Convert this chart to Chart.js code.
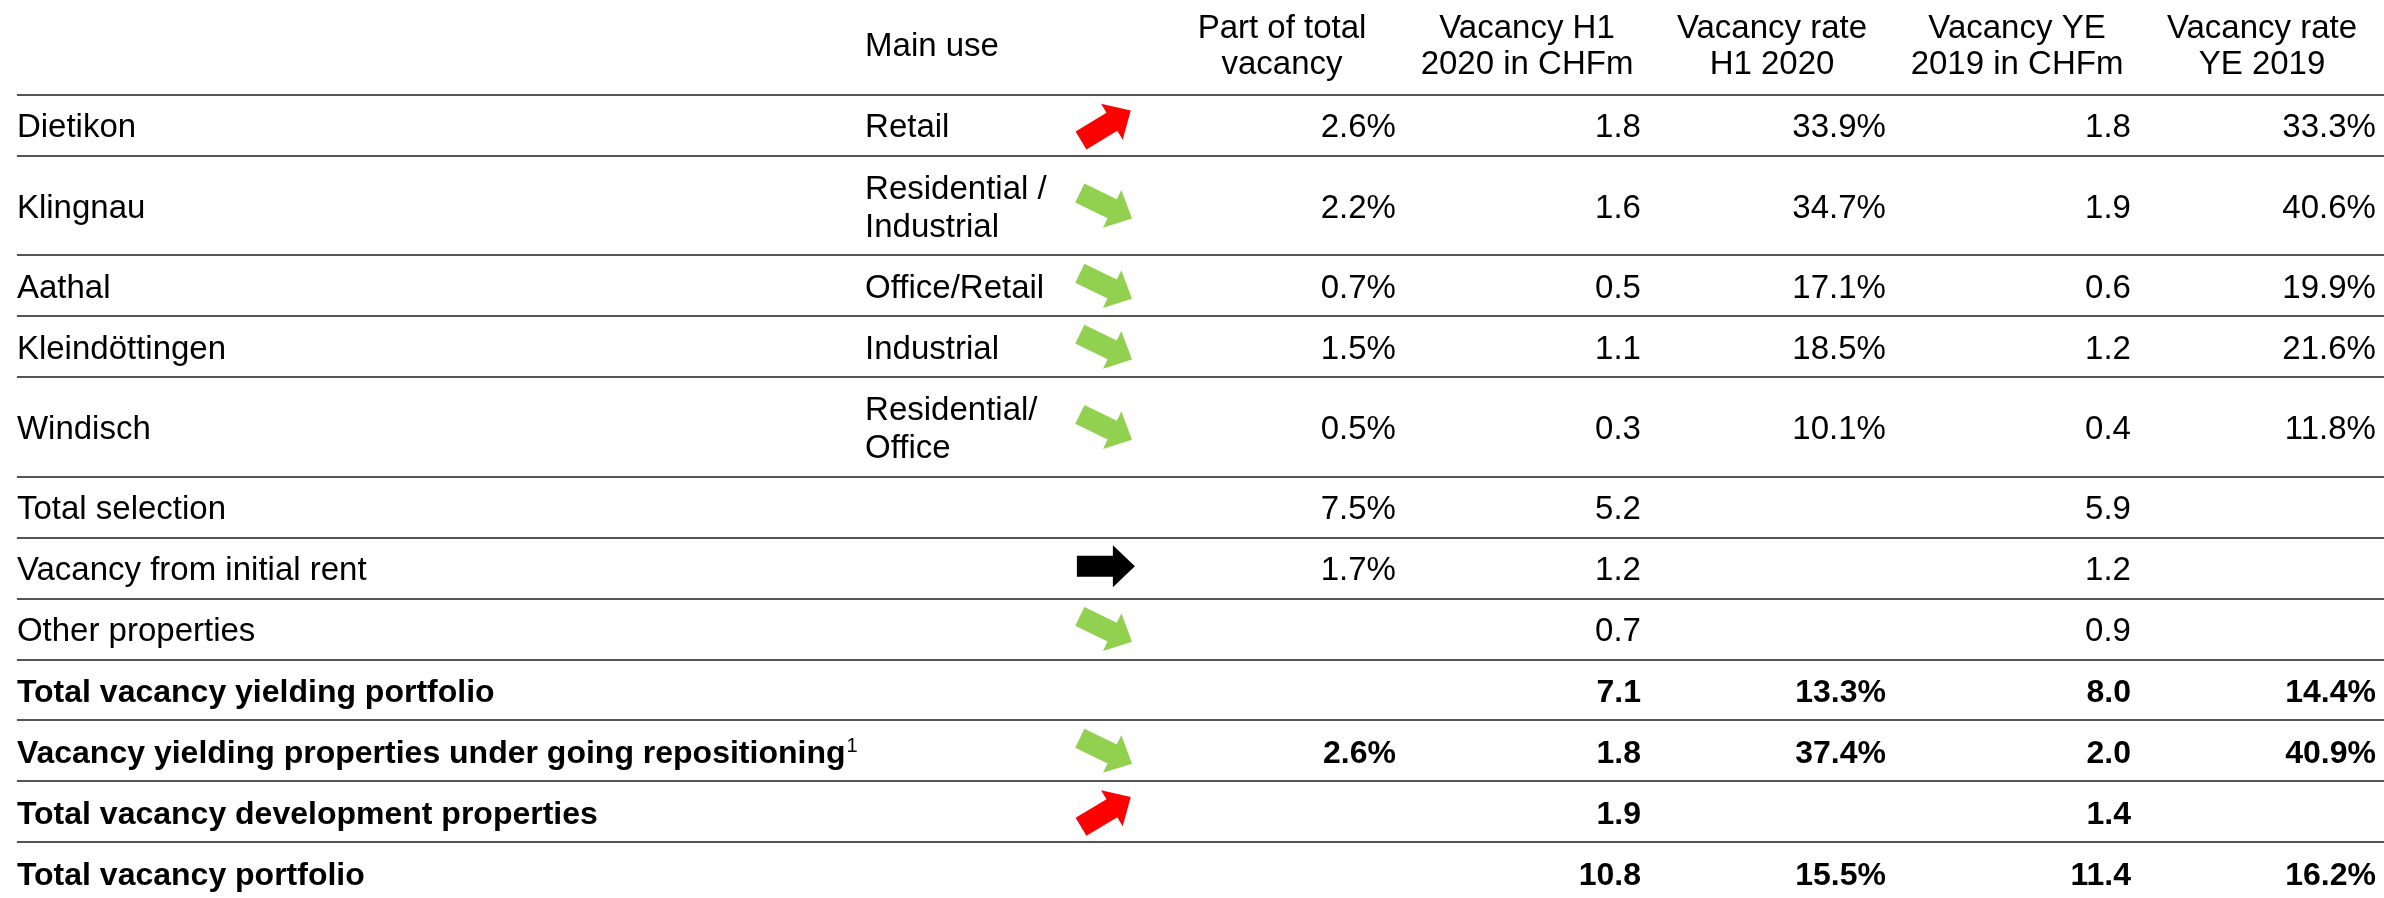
<!DOCTYPE html>
<html>
<head>
<meta charset="utf-8">
<script src="https://cdn.jsdelivr.net/npm/chart.js@4.4.1/dist/chart.umd.min.js"></script>
<style>
  html, body { margin: 0; padding: 0; background: #fff; }
</style>
</head>
<body>
<canvas id="vacancy-table" width="2384" height="898"></canvas>
<script>
// table content
const rowLabels = ['Dietikon', 'Klingnau', 'Aathal', 'Kleindöttingen', 'Windisch', 'Total selection',
  'Vacancy from initial rent', 'Other properties', 'Total vacancy yielding portfolio',
  'Vacancy yielding properties under going repositioning', 'Total vacancy development properties',
  'Total vacancy portfolio'];
const mainUse = ['Retail', 'Residential /\nIndustrial', 'Office/Retail', 'Industrial', 'Residential/\nOffice',
  '', '', '', '', '', '', ''];
const trend = ['up', 'down', 'down', 'down', 'down', null, 'flat', 'down', null, 'down', 'up', null];
const columnHeaders = ['Part of total\nvacancy', 'Vacancy H1\n2020 in CHFm', 'Vacancy rate\nH1 2020',
  'Vacancy YE\n2019 in CHFm', 'Vacancy rate\nYE 2019'];
const partOfTotal = [2.6, 2.2, 0.7, 1.5, 0.5, 7.5, 1.7, null, null, 2.6, null, null];
const vacancyH1 = [1.8, 1.6, 0.5, 1.1, 0.3, 5.2, 1.2, 0.7, 7.1, 1.8, 1.9, 10.8];
const rateH1 = [33.9, 34.7, 17.1, 18.5, 10.1, null, null, null, 13.3, 37.4, null, 15.5];
const vacancyYE = [1.8, 1.9, 0.6, 1.2, 0.4, 5.9, 1.2, 0.9, 8.0, 2.0, 1.4, 11.4];
const rateYE = [33.3, 40.6, 19.9, 21.6, 11.8, null, null, null, 14.4, 40.9, null, 16.2];
const boldRows = [8, 9, 10, 11];
const footnoteRows = [9];

const columns = [
  { values: partOfTotal, pct: true },
  { values: vacancyH1, pct: false },
  { values: rateH1, pct: true },
  { values: vacancyYE, pct: false },
  { values: rateYE, pct: true }
];

// layout: x in "numeric column" units (column k right edge at x = k), y in "row" units
const FONT = '"Liberation Sans", Arial, Helvetica, sans-serif';
const X_MIN = -5.698, X_MAX = 4.033;
const X_LABEL = -5.629, X_USE = -2.167, X_ARROW = -1.184, HEADER_SHIFT = -0.465;
const Y_MAX = 14.745, HEADER_UNITS = 1.56, HEADER_MID = 0.73, EXTRA_LINE = 0.635;

const lineCount = mainUse.map(s => s.split('\n').length);
const rowTop = [];
const rowMid = [];
let acc = HEADER_UNITS;
lineCount.forEach(n => {
  let h = 1 + EXTRA_LINE * (n - 1);
  rowTop.push(acc);
  rowMid.push(acc + h / 2);
  acc += h;
});

const arrowStyle = {
  up: { color: '#ff0000', angle: -31 },
  down: { color: '#92d050', angle: 26 },
  flat: { color: '#000000', angle: 0, lift: 2 }
};

function drawArrow(ctx, cx, cy, style) {
  const L = 58, sw = 21, hw = 42, hl = 22;
  ctx.save();
  ctx.translate(cx, cy - (style.lift || 0));
  ctx.rotate(style.angle * Math.PI / 180);
  ctx.beginPath();
  ctx.moveTo(-L / 2, -sw / 2);
  ctx.lineTo(L / 2 - hl, -sw / 2);
  ctx.lineTo(L / 2 - hl, -hw / 2);
  ctx.lineTo(L / 2, 0);
  ctx.lineTo(L / 2 - hl, hw / 2);
  ctx.lineTo(L / 2 - hl, sw / 2);
  ctx.lineTo(-L / 2, sw / 2);
  ctx.closePath();
  ctx.fillStyle = style.color;
  ctx.fill();
  ctx.restore();
}

const tablePlugin = {
  id: 'tablePlugin',
  afterDatasetsDraw(chart) {
    const ctx = chart.ctx;
    const x = chart.scales.x, y = chart.scales.y;
    const regular = '33px ' + FONT, bold = 'bold 32px ' + FONT;
    ctx.save();
    ctx.fillStyle = '#000';
    ctx.textBaseline = 'alphabetic';

    // header
    const hy = y.getPixelForValue(HEADER_MID);
    ctx.font = regular;
    ctx.textAlign = 'left';
    ctx.fillText('Main use', x.getPixelForValue(X_USE), hy + 12);
    ctx.textAlign = 'center';
    columnHeaders.forEach((h, k) => {
      const lines = h.split('\n');
      const cx = x.getPixelForValue(k + HEADER_SHIFT);
      lines.forEach((t, j) => {
        ctx.fillText(t, cx, hy + 12 + (j - (lines.length - 1) / 2) * 36);
      });
    });

    // row separators
    ctx.strokeStyle = '#555';
    ctx.lineWidth = 2;
    rowTop.forEach(t => {
      const py = Math.round(y.getPixelForValue(t));
      ctx.beginPath();
      ctx.moveTo(x.getPixelForValue(X_LABEL), py);
      ctx.lineTo(chart.width, py);
      ctx.stroke();
    });

    // row labels, main use, arrows
    rowLabels.forEach((label, i) => {
      const my = y.getPixelForValue(rowMid[i]);
      const isBold = boldRows.includes(i);
      ctx.font = isBold ? bold : regular;
      ctx.textAlign = 'left';
      const lx = x.getPixelForValue(X_LABEL);
      ctx.fillText(label, lx, my + 12);
      if (footnoteRows.includes(i)) {
        const w = ctx.measureText(label).width;
        ctx.font = '20px ' + FONT;
        ctx.fillText('1', lx + w + 1, my + 1);
      }
      ctx.font = regular;
      const lines = mainUse[i].split('\n');
      lines.forEach((t, j) => {
        if (t) ctx.fillText(t, x.getPixelForValue(X_USE), my + 12 + (j - (lines.length - 1) / 2) * 38);
      });
      if (trend[i]) drawArrow(ctx, x.getPixelForValue(X_ARROW), my, arrowStyle[trend[i]]);
    });

    // numeric cells, placed at the dataset points
    ctx.textAlign = 'right';
    chart.data.datasets.forEach((ds, k) => {
      const meta = chart.getDatasetMeta(k);
      meta.data.forEach((pt, j) => {
        const d = ds.data[j];
        ctx.font = boldRows.includes(d.row) ? bold : regular;
        const txt = d.v.toFixed(1) + (columns[k].pct ? '%' : '');
        ctx.fillText(txt, pt.x, pt.y + 12);
      });
    });
    ctx.restore();
  }
};

const ctx = document.getElementById('vacancy-table').getContext('2d');
const vacancyTable = new Chart(ctx, {
  type: 'scatter',
  data: {
    datasets: columns.map((c, k) => ({
      label: columnHeaders[k],
      data: c.values
        .map((v, i) => v == null ? null : { x: k, y: rowMid[i], v: v, row: i })
        .filter(Boolean),
      pointRadius: 0,
      pointHoverRadius: 0
    }))
  },
  options: {
    responsive: false,
    devicePixelRatio: 1,
    animation: false,
    events: [],
    layout: { padding: 0 },
    plugins: {
      legend: { display: false },
      tooltip: { enabled: false }
    },
    scales: {
      x: { type: 'linear', display: false, min: X_MIN, max: X_MAX },
      y: { type: 'linear', display: false, min: 0, max: Y_MAX, reverse: true }
    }
  },
  plugins: [tablePlugin]
});
</script>
</body>
</html>
